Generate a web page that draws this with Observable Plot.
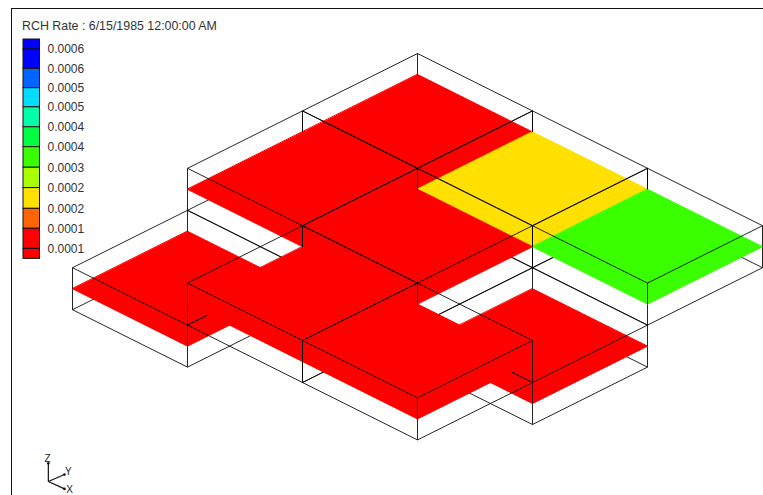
<!DOCTYPE html>
<html>
<head>
<meta charset="utf-8">
<script src="https://cdn.jsdelivr.net/npm/d3@7"></script>
<script src="https://cdn.jsdelivr.net/npm/@observablehq/plot@0.6"></script>
<style>
html,body{margin:0;padding:0;background:#fff;overflow:hidden}
#page{position:relative;width:763px;height:495px;overflow:hidden;font-family:"Liberation Sans",Arial,sans-serif}
#page svg{position:absolute;left:0;top:0;background:transparent}
#frame{position:absolute;left:11px;top:8px;width:760px;height:500px;border-left:1.5px solid #111;border-top:1.5px solid #111}
#title{position:absolute;left:22px;top:19px;font-size:12.4px;line-height:14px;color:#333;white-space:nowrap}
</style>
</head>
<body>
<div id="page"><div id="frame"></div><div id="title"></div></div>
<script>
const titleText = "RCH Rate : 6/15/1985 12:00:00 AM";

// Model cells: column, row, layer elevation (0 = upper, 2 = lower) and rate class colour
const cellCol   = [0, 1, 2, 0, 1, 2, 0, 1, 2];
const cellRow   = [0, 0, 0, 1, 1, 1, 2, 2, 2];
const cellDrop  = [0, 0, 0, 0, 0, 2, 2, 0, 0];
const cellFill  = ["#ff0000","#ffe000","#39ff00","#ff0000","#ff0000","#ff0000","#ff0000","#ff0000","#ff0000"];

// Colour key: label text, the position of each label along the key, and the swatches between them
const keyLabels = ["0.0006","0.0006","0.0005","0.0005","0.0004","0.0004","0.0003","0.0002","0.0002","0.0001","0.0001"];
const keyStops  = [0, 0.97, 1.94, 2.9, 3.9, 4.9, 5.93, 6.95, 7.99, 8.99, 10];
const keyColors = ["#0000ff","#0000ff","#0066ff","#00ddff","#00ffaa","#00ff44","#39ff00","#aaff00","#ffe000","#ff6600","#ff0000","#ff0000"];

// Orientation triad
const triadOrigin = [-3.21, 7.456];
const triadTips   = [[-3.21, 7.14], [-3.07, 7.335], [-3.07, 7.585]];
const triadNames  = [["Z", -3.217, 7.056], ["Y", -3.037, 7.28], ["X", -3.025, 7.6]];

const zUnit = 0.366; // one half cell height, in plan units

const cells = cellCol.map((c, k) => ({c, r: cellRow[k], drop: cellDrop[k], fill: cellFill[k], id: k}));
const px = (c, r) => c - r;
const py = (c, r, z) => c + r + z * zUnit;
const ring = cell => [[0,0],[1,0],[1,1],[0,1]].map(([a,b]) => [cell.c + a, cell.r + b]);

function poly(cell, z) {
  return ring(cell).map(([c, r]) => ({x: px(c, r), y: py(c, r, z), id: cell.id}));
}
function edges(cell, z) {
  const q = ring(cell);
  return q.map(([c, r], n) => {
    const [c2, r2] = q[(n + 1) % 4];
    return {x1: px(c, r), y1: py(c, r, z), x2: px(c2, r2), y2: py(c2, r2, z)};
  });
}
function posts(cell, z1, z2) {
  return ring(cell).map(([c, r]) => ({x1: px(c, r), y1: py(c, r, z1), x2: px(c, r), y2: py(c, r, z2)}));
}
const low = cells.filter(d => d.drop > 0), high = cells.filter(d => d.drop === 0);
const wire = data => Plot.link(data, {x1: "x1", y1: "y1", x2: "x2", y2: "y2", stroke: "#000", strokeWidth: 1, strokeOpacity: 0.85});
// a hairline of the fill colour closes the antialiasing seam between neighbouring cells
const sheet = group => group.map(cell => Plot.line(poly(cell, cell.drop + 1), {
  x: "x", y: "y", curve: "linear-closed", fill: cell.fill, stroke: cell.fill, strokeWidth: 1, strokeOpacity: 1
}));

const main = Plot.plot({
  width: 763, height: 495, margin: 0,
  x: {domain: [0, 1], range: [417, 532], axis: null},
  y: {domain: [0, 1], range: [53, 110.4], axis: null},
  marks: [
    wire(low.flatMap(d => [...edges(d, d.drop + 2), ...posts(d, d.drop + 1, d.drop + 2)])),
    ...sheet(low),
    wire(low.flatMap(d => [...edges(d, d.drop), ...posts(d, d.drop, d.drop + 1)])),
    wire(high.flatMap(d => [...edges(d, 2), ...posts(d, 1, 2)])),
    ...sheet(high),
    wire(high.flatMap(d => [...edges(d, 0), ...posts(d, 0, 1)])),
    Plot.link(triadTips, {x1: () => triadOrigin[0], y1: () => triadOrigin[1], x2: d => d[0], y2: d => d[1], stroke: "#111", strokeWidth: 1.2}),
    Plot.dot(triadTips, {x: d => d[0], y: d => d[1], r: 1.3, fill: "#111", stroke: null}),
    Plot.text(triadNames, {x: d => d[1], y: d => d[2], text: d => d[0], fontSize: 10, fill: "#222", fontFamily: "Liberation Sans"})
  ]
});

const keyRows = keyColors.map((color, k) => ({
  color,
  y1: k === 0 ? -0.5 : keyStops[k - 1],
  y2: k === keyStops.length ? 10.5 : keyStops[k]
}));
const key = Plot.plot({
  width: 120, height: 270, margin: 0,
  x: {domain: [0, 1], range: [23, 39.5], axis: null},
  y: {domain: [0, 10], range: [49, 248.4], axis: null},
  marks: [
    Plot.rect(keyRows, {x1: () => 0, x2: () => 1, y1: "y1", y2: "y2", fill: "color", stroke: "#111", strokeWidth: 1}),
    Plot.text(keyLabels, {x: () => 1, y: (d, k) => keyStops[k], text: d => d, dx: 7.5, textAnchor: "start", fontSize: 12, fill: "#333", fontFamily: "Liberation Sans"})
  ]
});

document.getElementById("title").textContent = titleText;
const page = document.getElementById("page");
page.insertBefore(main, page.firstChild);
page.appendChild(key);
</script>
</body>
</html>
